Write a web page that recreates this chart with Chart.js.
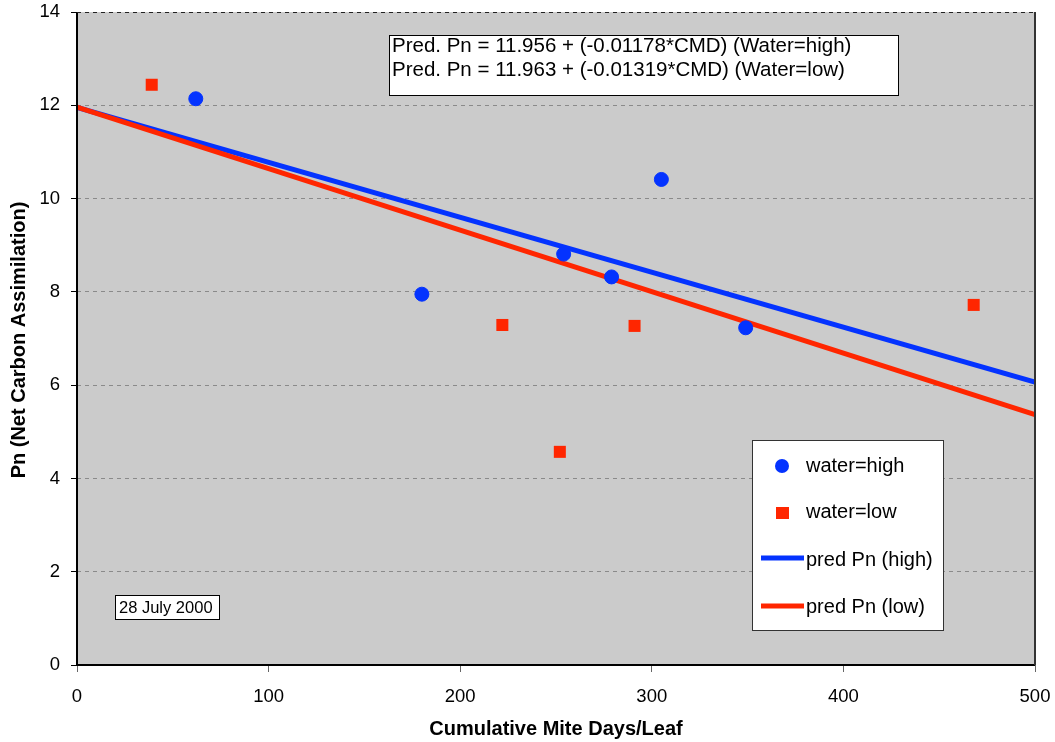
<!DOCTYPE html>
<html>
<head>
<meta charset="utf-8">
<script src="https://cdn.jsdelivr.net/npm/chart.js@4.4.1/dist/chart.umd.min.js"></script>
<style>
  html, body { margin: 0; padding: 0; background: #fff; }
  #wrap { width: 1055px; height: 742px; }
</style>
</head>
<body>
<div id="wrap"><canvas id="scatterChart"></canvas></div>
<script>
const highCMD = [62, 180, 254, 279, 305, 349];
const highPn  = [12.14, 7.95, 8.81, 8.32, 10.41, 7.23];
const lowCMD  = [39, 222, 252, 291, 468];
const lowPn   = [12.44, 7.29, 4.57, 7.27, 7.72];

// fitted lines, end points at CMD 0 and 500
const lineCMD  = [0, 500];
const predHigh = [11.956, 6.066];
const predLow  = [11.963, 5.368];

const xTicks = [0, 100, 200, 300, 400, 500];
const yTicks = [0, 2, 4, 6, 8, 10, 12, 14];

const equations = [
    'Pred. Pn = 11.956 + (-0.01178*CMD) (Water=high)',
    'Pred. Pn = 11.963 + (-0.01319*CMD) (Water=low)'
];
const dateLabel = '28 July 2000';
const xTitle = 'Cumulative Mite Days/Leaf';
const yTitle = 'Pn (Net Carbon Assimilation)';

const BLUE = '#0433ff';
const RED = '#ff2600';
const FONT = '"Liberation Sans", Arial, sans-serif';

function toPoints(xs, ys) {
    return xs.map(function (x, i) { return { x: x, y: ys[i] }; });
}

// grey plot background + frame
const plotFrame = {
    id: 'plotFrame',
    beforeDraw: function (chart) {
        const a = chart.chartArea;
        const ctx = chart.ctx;
        ctx.save();
        ctx.fillStyle = '#cbcbcb';
        ctx.fillRect(a.left, a.top, a.right - a.left, a.bottom - a.top);
        ctx.restore();
    },
    afterDatasetsDraw: function (chart) {
        const a = chart.chartArea;
        const ctx = chart.ctx;
        ctx.save();
        ctx.lineWidth = 2;
        ctx.strokeStyle = '#000';
        ctx.beginPath();
        ctx.moveTo(a.left, a.top);
        ctx.lineTo(a.left, a.bottom);
        ctx.lineTo(a.right, a.bottom);
        ctx.stroke();
        ctx.strokeStyle = '#333';
        ctx.beginPath();
        ctx.moveTo(a.right, a.bottom);
        ctx.lineTo(a.right, a.top);
        ctx.stroke();
        ctx.lineWidth = 1;
        ctx.setLineDash([4, 4]);
        ctx.strokeStyle = '#222';
        ctx.beginPath();
        ctx.moveTo(a.left, a.top + 0.5);
        ctx.lineTo(a.right, a.top + 0.5);
        ctx.stroke();
        ctx.restore();
    }
};

// text boxes, legend and axis titles
const annotations = {
    id: 'annotations',
    afterDraw: function (chart) {
        const ctx = chart.ctx;
        ctx.save();
        ctx.textBaseline = 'alphabetic';
        ctx.textAlign = 'left';

        // equation box
        ctx.fillStyle = '#fff';
        ctx.fillRect(389, 35, 509, 60);
        ctx.strokeStyle = '#000';
        ctx.lineWidth = 1;
        ctx.strokeRect(389.5, 35.5, 509, 60);
        ctx.fillStyle = '#000';
        ctx.font = '20.5px ' + FONT;
        ctx.fillText(equations[0], 392, 52);
        ctx.fillText(equations[1], 392, 76);

        // date box
        ctx.fillStyle = '#fff';
        ctx.fillRect(115, 595, 104, 24);
        ctx.strokeRect(115.5, 595.5, 104, 24);
        ctx.fillStyle = '#000';
        ctx.font = '16.5px ' + FONT;
        ctx.fillText(dateLabel, 119, 613);

        // legend
        ctx.fillStyle = '#fff';
        ctx.fillRect(752, 440, 191, 190);
        ctx.strokeStyle = '#333';
        ctx.strokeRect(752.5, 440.5, 191, 190);
        ctx.fillStyle = BLUE;
        ctx.beginPath();
        ctx.arc(782, 466, 7, 0, Math.PI * 2);
        ctx.fill();
        ctx.fillStyle = RED;
        ctx.fillRect(776, 507, 13, 12);
        ctx.lineWidth = 5;
        ctx.strokeStyle = BLUE;
        ctx.beginPath();
        ctx.moveTo(761, 558);
        ctx.lineTo(804, 558);
        ctx.stroke();
        ctx.strokeStyle = RED;
        ctx.beginPath();
        ctx.moveTo(761, 606);
        ctx.lineTo(804, 606);
        ctx.stroke();
        ctx.fillStyle = '#000';
        ctx.font = '20px ' + FONT;
        ctx.fillText('water=high', 806, 472);
        ctx.fillText('water=low', 806, 518);
        ctx.fillText('pred Pn (high)', 806, 566);
        ctx.fillText('pred Pn (low)', 806, 613);

        // axis titles
        ctx.font = 'bold 20px ' + FONT;
        ctx.textAlign = 'center';
        ctx.textBaseline = 'middle';
        ctx.fillText(xTitle, 556, 729);
        ctx.translate(19, 340);
        ctx.rotate(-Math.PI / 2);
        ctx.fillText(yTitle, 0, 0);
        ctx.restore();
    }
};

const ctx = document.getElementById('scatterChart').getContext('2d');
new Chart(ctx, {
    type: 'scatter',
    data: {
        datasets: [{
            label: 'pred Pn (high)',
            type: 'line',
            data: toPoints(lineCMD, predHigh),
            borderColor: BLUE,
            borderWidth: 5,
            pointRadius: 0,
            fill: false,
            order: 3
        }, {
            label: 'pred Pn (low)',
            type: 'line',
            data: toPoints(lineCMD, predLow),
            borderColor: RED,
            borderWidth: 5,
            pointRadius: 0,
            fill: false,
            order: 2
        }, {
            label: 'water=high',
            data: toPoints(highCMD, highPn),
            backgroundColor: BLUE,
            borderColor: BLUE,
            pointStyle: 'circle',
            pointRadius: 7,
            order: 1
        }, {
            label: 'water=low',
            data: toPoints(lowCMD, lowPn),
            backgroundColor: RED,
            borderColor: RED,
            pointStyle: 'rect',
            pointRadius: 8.5,
            borderWidth: 0,
            order: 0
        }]
    },
    options: {
        responsive: true,
        maintainAspectRatio: false,
        animation: false,
        layout: { padding: { top: 12, right: 20, left: 0, bottom: 0 } },
        plugins: {
            legend: { display: false },
            tooltip: { enabled: false }
        },
        scales: {
            x: {
                type: 'linear',
                min: 0,
                max: 500,
                afterFit: function (scale) {
                    scale.height = 77;
                    scale.paddingLeft = 0;
                    scale.paddingRight = 0;
                },
                afterBuildTicks: function (scale) {
                    scale.ticks = xTicks.map(function (v) { return { value: v }; });
                },
                border: { display: false },
                grid: {
                    drawOnChartArea: false,
                    tickLength: 7,
                    tickColor: '#666',
                    tickWidth: 1
                },
                ticks: {
                    color: '#000',
                    padding: 14,
                    maxRotation: 0,
                    font: { family: FONT, size: 18.5 }
                }
            },
            y: {
                type: 'linear',
                min: 0,
                max: 14,
                afterFit: function (scale) {
                    scale.width = 77;
                    scale.paddingTop = 0;
                    scale.paddingBottom = 0;
                },
                afterBuildTicks: function (scale) {
                    scale.ticks = yTicks.map(function (v) { return { value: v }; });
                },
                border: { display: false, dash: [4, 4] },
                grid: {
                    color: '#8a8a8a',
                    lineWidth: 1,
                    tickLength: 6,
                    tickColor: '#000',
                    tickBorderDash: []
                },
                ticks: {
                    color: '#000',
                    padding: 11,
                    font: { family: FONT, size: 18.5 }
                }
            }
        }
    },
    plugins: [plotFrame, annotations]
});
</script>
</body>
</html>
